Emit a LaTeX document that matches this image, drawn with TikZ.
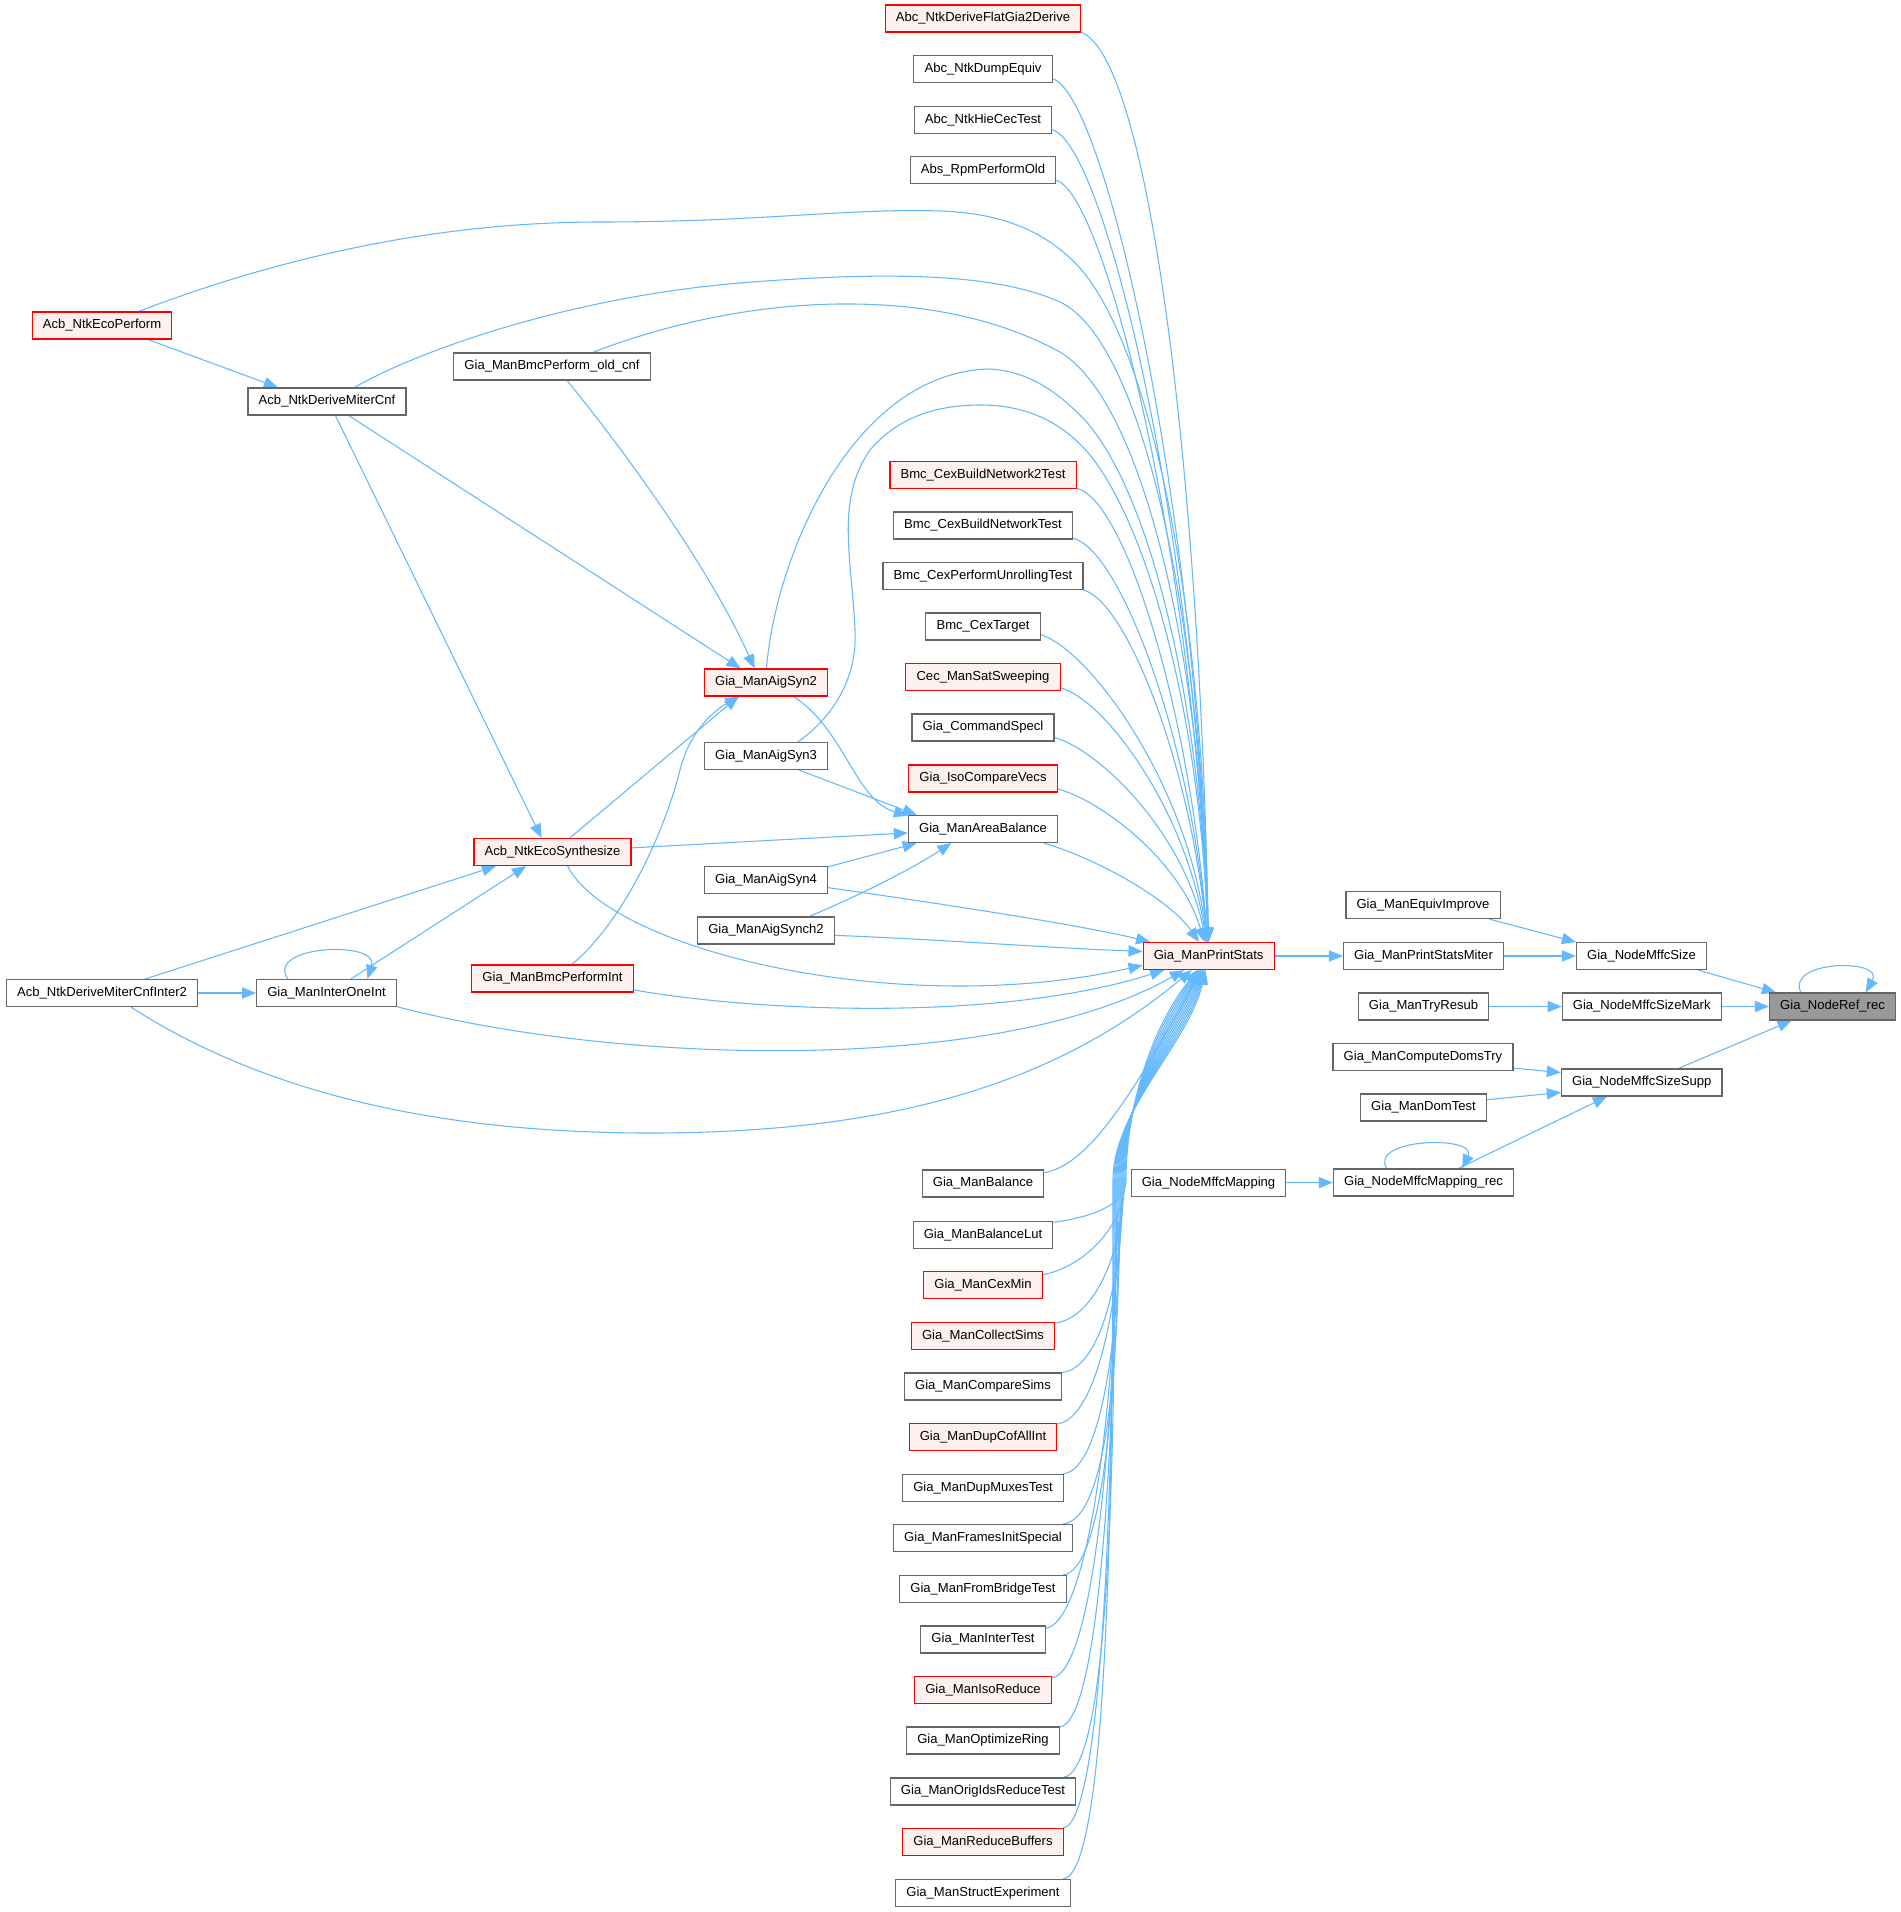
\documentclass[tikz,border=0pt]{standalone}
\usepackage{fontspec}
\setmainfont{Liberation Sans}
\usetikzlibrary{arrows.meta}
\pgfdeclarelayer{bglayer}
\pgfdeclarelayer{edgelayer}
\pgfsetlayers{bglayer,edgelayer,main}
\definecolor{edgec}{HTML}{63B8FF}
\definecolor{gborder}{HTML}{666666}
\definecolor{rfill}{HTML}{FFF0F0}
\definecolor{rootfill}{HTML}{999999}
\tikzset{
  fn/.style={draw=gborder, fill=white, line width=0.9pt, rectangle, minimum height=20.25pt,
    inner xsep=8pt, inner ysep=0pt, font=\fontsize{9.8}{11}\selectfont},
  rn/.style={fn, draw=red, fill=rfill},
  rootn/.style={fn, fill=rootfill},
  e/.style={draw=edgec, line width=0.8pt, -{Triangle[length=10.5pt,width=8.5pt]}}
}
\begin{document}
\begin{tikzpicture}[x=0.75pt,y=-0.75pt]
\useasboundingbox (0,0) rectangle (1901,1912);
\begin{pgfonlayer}{bglayer}
\fill[white] (0,0) rectangle (1901,1912);
\end{pgfonlayer}
% column nodes
\node[rn] (c1) at (983,18.5) {Abc\_NtkDeriveFlatGia2Derive};
\node[fn] (c2) at (983,69) {Abc\_NtkDumpEquiv};
\node[fn] (c3) at (983,120) {Abc\_NtkHieCecTest};
\node[fn] (c4) at (983,170) {Abs\_RpmPerformOld};
\node[rn] (c5) at (983,475) {Bmc\_CexBuildNetwork2Test};
\node[fn] (c6) at (983,525.5) {Bmc\_CexBuildNetworkTest};
\node[fn] (c7) at (983,576) {Bmc\_CexPerformUnrollingTest};
\node[fn] (c8) at (983,626.5) {Bmc\_CexTarget};
\node[rn] (c9) at (983,677) {Cec\_ManSatSweeping};
\node[fn] (c10) at (983,727.5) {Gia\_CommandSpecl};
\node[rn] (c11) at (983,778.5) {Gia\_IsoCompareVecs};
\node[fn] (AB) at (983,829) {Gia\_ManAreaBalance};
\node[fn] (b1) at (983,1183.5) {Gia\_ManBalance};
\node[fn] (b2) at (983,1234.7) {Gia\_ManBalanceLut};
\node[rn] (b3) at (983,1285.3) {Gia\_ManCexMin};
\node[rn] (b4) at (983,1335.8) {Gia\_ManCollectSims};
\node[fn] (b5) at (983,1386.5) {Gia\_ManCompareSims};
\node[rn] (b6) at (983,1437) {Gia\_ManDupCofAllInt};
\node[fn] (b7) at (983,1488) {Gia\_ManDupMuxesTest};
\node[fn] (b8) at (983,1538) {Gia\_ManFramesInitSpecial};
\node[fn] (b9) at (983,1589) {Gia\_ManFromBridgeTest};
\node[fn] (b10) at (983,1639.5) {Gia\_ManInterTest};
\node[rn] (b11) at (983,1690) {Gia\_ManIsoReduce};
\node[fn] (b12) at (983,1740.5) {Gia\_ManOptimizeRing};
\node[fn] (b13) at (983,1791.5) {Gia\_ManOrigIdsReduceTest};
\node[rn] (b14) at (983,1842) {Gia\_ManReduceBuffers};
\node[fn] (b15) at (983,1893) {Gia\_ManStructExperiment};
% left nodes
\node[rn] (EP) at (102,325.5) {Acb\_NtkEcoPerform};
\node[fn] (DMC) at (327,401.5) {Acb\_NtkDeriveMiterCnf};
\node[fn] (OC) at (552,366.5) {Gia\_ManBmcPerform\_old\_cnf};
\node[rn] (AS2) at (766,682.5) {Gia\_ManAigSyn2};
\node[fn] (AS3) at (766,756) {Gia\_ManAigSyn3};
\node[fn] (AS4) at (766,880) {Gia\_ManAigSyn4};
\node[fn] (AS5) at (766,930.5) {Gia\_ManAigSynch2};
\node[rn] (ES) at (552.5,852) {Acb\_NtkEcoSynthesize};
\node[rn] (BPI) at (552.5,978.5) {Gia\_ManBmcPerformInt};
\node[fn] (I2) at (102,993) {Acb\_NtkDeriveMiterCnfInter2};
\node[fn] (IOI) at (326.5,993) {Gia\_ManInterOneInt};
% right nodes
\node[rn] (PS) at (1208.6,956) {Gia\_ManPrintStats};
\node[fn] (EI) at (1423,905) {Gia\_ManEquivImprove};
\node[fn] (PSM) at (1423.5,956) {Gia\_ManPrintStatsMiter};
\node[fn] (NMS) at (1641.5,956) {Gia\_NodeMffcSize};
\node[fn] (TR) at (1423.5,1006.5) {Gia\_ManTryResub};
\node[fn] (NMM) at (1641.7,1006.5) {Gia\_NodeMffcSizeMark};
\node[rootn] (NR) at (1832.5,1006.5) {Gia\_NodeRef\_rec};
\node[fn] (CDT) at (1423,1057) {Gia\_ManComputeDomsTry};
\node[fn] (NMSS) at (1641.7,1082.5) {Gia\_NodeMffcSizeSupp};
\node[fn] (DT) at (1423.5,1107.5) {Gia\_ManDomTest};
\node[fn] (NMR) at (1423.5,1182.5) {Gia\_NodeMffcMapping\_rec};
\node[fn] (NM) at (1208.5,1182.7) {Gia\_NodeMffcMapping};
\begin{pgfonlayer}{edgelayer}
% column -> PS
\draw[e] (c1.-8) .. controls (1150,60) and (1200,480) .. (PS);
\draw[e] (c2.-8) .. controls (1105,95) and (1198,505) .. (PS);
\draw[e] (c3.-8) .. controls (1105,145) and (1196,530) .. (PS);
\draw[e] (c4.-8) .. controls (1105,195) and (1194,555) .. (PS);
\draw[e] (c5.-8) .. controls (1125,500) and (1190,710) .. (PS);
\draw[e] (c6.-8) .. controls (1120,550) and (1190,735) .. (PS);
\draw[e] (c7.-8) .. controls (1125,600) and (1190,760) .. (PS);
\draw[e] (c8.-8) .. controls (1090,650) and (1188,785) .. (PS);
\draw[e] (c9.-8) .. controls (1105,700) and (1186,810) .. (PS);
\draw[e] (c10.-8) .. controls (1100,750) and (1185,835) .. (PS);
\draw[e] (c11.-8) .. controls (1100,800) and (1180,860) .. (PS);
\draw[e] (AB.-13) .. controls (1100,860) and (1170,900) .. (PS);
% top-left long curves -> PS
\draw[e] (EP.21) .. controls (260,265) and (420,222) .. (600,222) .. controls (760,222) and (850,208) .. (940,211) .. controls (1000,213) and (1040,230) .. (1070,258) .. controls (1140,320) and (1202,560) .. (PS);
\draw[e] (DMC.27) .. controls (410,355) and (560,298) .. (740,283) .. controls (900,270) and (1000,275) .. (1060,302) .. controls (1140,340) and (1200,600) .. (PS);
\draw[e] (OC.19) .. controls (650,330) and (740,305) .. (840,304) .. controls (940,303) and (1010,325) .. (1060,352) .. controls (1140,400) and (1200,640) .. (PS);
\draw[e] (AS2.88) .. controls (775,560) and (850,375) .. (987,369) .. controls (1030,370) and (1060,395) .. (1083,418) .. controls (1150,490) and (1200,700) .. (PS);
\draw[e] (AS3.24) .. controls (830,720) and (858,680) .. (855,630) .. controls (852,560) and (835,500) .. (870,450) .. controls (900,415) and (940,405) .. (981,405) .. controls (1030,405) and (1065,425) .. (1090,455) .. controls (1150,530) and (1200,720) .. (PS);
% left-bottom -> PS
\draw[e] (AS4.-7) .. controls (950,905) and (1080,925) .. (PS);
\draw[e] (AS5.-4) .. controls (950,940) and (1050,948) .. (PS.176);
\draw[e] (ES.-43) .. controls (610,950) and (900,1020) .. (PS.188);
\draw[e] (BPI.-8) .. controls (760,1012) and (1000,1022) .. (PS);
\draw[e] (IOI.-11) .. controls (620,1065) and (1000,1075) .. (PS);
\draw[e] (I2.-26) .. controls (260,1090) and (430,1133) .. (650,1133) .. controls (900,1133) and (1060,1080) .. (PS);
% bottom group -> PS
\draw[e] (b1.10) .. controls (1085,1165) and (1125,1110) .. (PS);
\draw[e] (b2.10) .. controls (1092,1217) and (1126,1205) .. (1126,1180) .. controls (1126,1110) and (1150,1030) .. (PS);
\draw[e] (b3.10) .. controls (1083,1267) and (1125,1227) .. (1125,1180) .. controls (1125,1110) and (1153,1031) .. (PS);
\draw[e] (b4.10) .. controls (1095,1318) and (1124,1250) .. (1124,1180) .. controls (1124,1110) and (1156,1032) .. (PS);
\draw[e] (b5.10) .. controls (1102,1368) and (1123,1273) .. (1123,1180) .. controls (1123,1110) and (1159,1033) .. (PS);
\draw[e] (b6.10) .. controls (1097,1419) and (1122,1296) .. (1122,1180) .. controls (1122,1110) and (1162,1034) .. (PS);
\draw[e] (b7.10) .. controls (1104,1470) and (1121,1319) .. (1121,1180) .. controls (1121,1110) and (1165,1035) .. (PS);
\draw[e] (b8.10) .. controls (1110,1520) and (1120,1341) .. (1120,1180) .. controls (1120,1110) and (1168,1036) .. (PS);
\draw[e] (b9.10) .. controls (1106,1571) and (1119,1364) .. (1119,1180) .. controls (1119,1110) and (1171,1037) .. (PS);
\draw[e] (b10.10) .. controls (1090,1621) and (1118,1387) .. (1118,1180) .. controls (1118,1110) and (1174,1038) .. (PS);
\draw[e] (b11.10) .. controls (1095,1672) and (1117,1410) .. (1117,1180) .. controls (1117,1110) and (1177,1039) .. (PS);
\draw[e] (b12.10) .. controls (1100,1722) and (1116,1432) .. (1116,1180) .. controls (1116,1110) and (1180,1040) .. (PS);
\draw[e] (b13.10) .. controls (1110,1773) and (1115,1455) .. (1115,1180) .. controls (1115,1110) and (1183,1041) .. (PS);
\draw[e] (b14.10) .. controls (1103,1824) and (1114,1478) .. (1114,1180) .. controls (1114,1110) and (1186,1042) .. (PS);
\draw[e] (b15.10) .. controls (1108,1875) and (1113,1500) .. (1113,1180) .. controls (1113,1110) and (1189,1043) .. (PS);
% internal left edges
\draw[e] (ES.3) -- (AB.183);
\draw[e] (AS2.-27) .. controls (845,730) and (855,800) .. (AB.170);
\draw[e] (AS3.-23) -- (AB.168);
\draw[e] (AS4.12) -- (AB.192);
\draw[e] (AS5.18) .. controls (860,895) and (910,870) .. (AB.204);
\draw[e] (DMC.-33) -- (AS2.151);
\draw[e] (OC.-43) .. controls (640,470) and (715,580) .. (AS2.129);
\draw[e] (ES.39) -- (AS2.207);
\draw[e] (BPI.36) .. controls (625,920) and (665,830) .. (680,770) .. controls (690,730) and (715,710) .. (AS2.208);
\draw[e] (DMC.-59) -- (ES.128);
\draw[e] (EP.-17) -- (DMC.164);
\draw[e] (I2.18) -- (ES.194);
\draw[e] (IOI.30) -- (ES.208);
\draw[e] (I2) -- (IOI);
\draw[e] (IOI.160) .. controls (265,945) and (380,940) .. (IOI.19);
% right side
\draw[e] (PS) -- (PSM);
\draw[e] (PSM) -- (NMS);
\draw[e] (EI.-12) -- (NMS.168);
\draw[e] (NMS.-14) -- (NR.166);
\draw[e] (TR) -- (NMM);
\draw[e] (NMM) -- (NR);
\draw[e] (NMSS.21) -- (NR.199);
\draw[e] (CDT.-7) -- (NMSS.173);
\draw[e] (DT.7) -- (NMSS.187);
\draw[e] (NMR.22) -- (NMSS.202);
\draw[e] (NM) -- (NMR);
\draw[e] (NR.156) .. controls (1785,960) and (1885,958) .. (NR.23);
\draw[e] (NMR.159) .. controls (1368,1138) and (1478,1135) .. (NMR.20);
\end{pgfonlayer}
\end{tikzpicture}
\end{document}
